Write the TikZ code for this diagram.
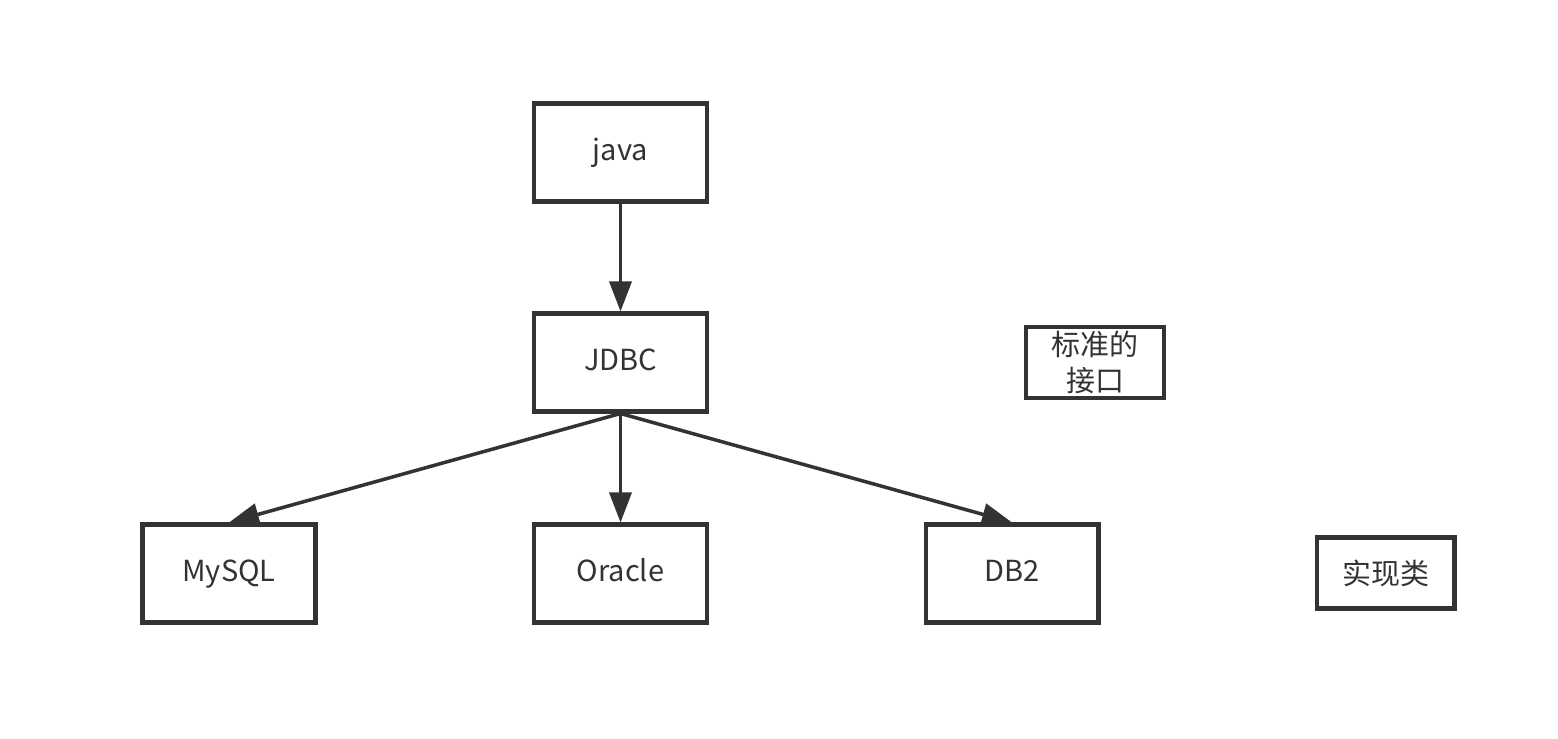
\documentclass[tikz,border=0pt]{standalone}
\usepackage{fontspec}
\setmainfont{Noto Sans CJK SC}
\usetikzlibrary{arrows.meta}
\definecolor{linegray}{HTML}{333333}

\begin{document}
\begin{tikzpicture}[x=0.02cm, y=-0.02cm, >={Triangle[length=0.6cm, width=0.44cm]}, font=\fontsize{16.5}{21}\selectfont]
				\useasboundingbox (0, 0) rectangle (1558, 739);
				\tikzset{box/.style={draw=linegray, line width=2.3pt, rectangle, fill=white, text=linegray, minimum width=3.46cm, minimum height=1.96cm, inner sep=0pt, text height=1em, text depth=0.05em}}
				\tikzset{note/.style={draw=linegray, line width=2.3pt, rectangle, fill=white, text=linegray, minimum width=2.76cm, minimum height=1.42cm, inner sep=0pt, align=center}}
				\node[box] (java) at (620.5, 152.5) {java};
				\node[box] (jdbc) at (620.5, 362.5) {JDBC};
				\node[box] (mysql) at (229, 573.5) {MySQL};
				\node[box] (oracle) at (620.5, 573.5) {Oracle};
				\node[box] (db2) at (1012, 573.5) {DB2};
				\node[note] (iface) at (1095, 362.5) {标准的\\接口};
				\node[note] (impl) at (1385.5, 573) {实现类};
				
				\draw[->, linegray, line width=2pt] (java) -- (jdbc);
				\draw[->, linegray, line width=2pt] (jdbc.south) -- (mysql.north);
				\draw[->, linegray, line width=2pt] (jdbc.south) -- (oracle.north);
				\draw[->, linegray, line width=2pt] (jdbc.south) -- (db2.north);
			\end{tikzpicture}
\end{document}
